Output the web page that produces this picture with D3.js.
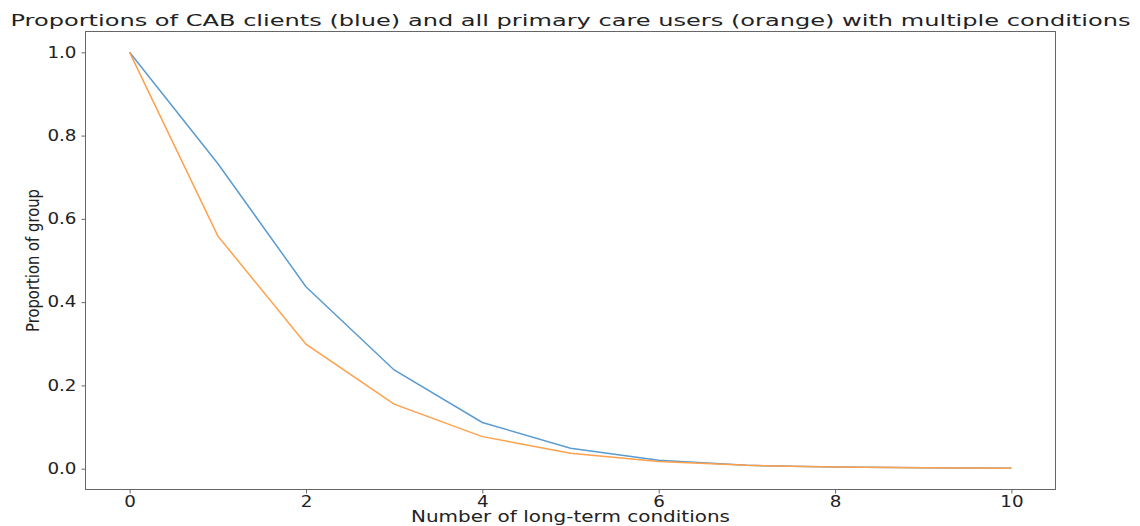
<!DOCTYPE html>
<meta charset="utf-8">
<style>
body { margin: 0; background: #fff; }
text { font-family: "DejaVu Sans", sans-serif; fill: #222; }
.frame { fill: none; stroke: #666; stroke-width: 1px; }
.axis path { display: none; }
.axis line { stroke: #666; }
.line { fill: none; stroke-width: 1.5px; }
</style>
<svg width="1140" height="526"></svg>
<script src="https://cdnjs.cloudflare.com/ajax/libs/d3/7.8.5/d3.min.js"></script>
<script>

var conditions = [0, 1, 2, 3, 4, 5, 6, 7, 8, 9, 10];
var cabClients = [1.0, 0.733, 0.437, 0.237, 0.111, 0.049, 0.020, 0.008, 0.004, 0.002, 0.001];
var primaryCare = [1.0, 0.559, 0.299, 0.155, 0.077, 0.037, 0.017, 0.008, 0.004, 0.002, 0.001];
var xTicks = [0, 2, 4, 6, 8, 10];
var yTicks = [0.0, 0.2, 0.4, 0.6, 0.8, 1.0];

var svg = d3.select("svg"),
    margin = {top: 31.5, right: 84.5, bottom: 36.5, left: 85.5},
    width = +svg.attr("width") - margin.left - margin.right,
    height = +svg.attr("height") - margin.top - margin.bottom;

// stretch text horizontally like the reference picture
var stretch = 1.22;

var x = d3.scaleLinear().domain([-0.5, 10.5]).range([0, width]);
var y = d3.scaleLinear().domain([-0.05, 1.05]).range([height, 0]);

var g = svg.append("g")
    .attr("transform", "translate(" + margin.left + "," + margin.top + ")");

var line = d3.line()
    .x(function(d, i) { return x(conditions[i]); })
    .y(function(d) { return y(d); });

g.append("path")
    .datum(cabClients)
    .attr("class", "line")
    .attr("stroke", "#5b9bd0")
    .attr("d", line);

g.append("path")
    .datum(primaryCare)
    .attr("class", "line")
    .attr("stroke", "#ffa04a")
    .attr("d", line);

g.append("rect")
    .attr("class", "frame")
    .attr("width", width)
    .attr("height", height);

g.append("g")
    .attr("class", "axis")
    .attr("transform", "translate(0," + height + ")")
    .call(d3.axisBottom(x).tickValues(xTicks).tickSize(4).tickPadding(2.5)
      .tickFormat(d3.format("d")));

g.append("g")
    .attr("class", "axis")
    .call(d3.axisLeft(y).tickValues(yTicks).tickSize(4).tickPadding(5)
      .tickFormat(d3.format(".1f")));

svg.selectAll(".axis text")
    .attr("font-size", 15)
    .style("font-family", "DejaVu Sans")
    .attr("fill", "#222")
    .each(function() {
      var w = this.getComputedTextLength();
      d3.select(this).attr("textLength", w * stretch).attr("lengthAdjust", "spacingAndGlyphs");
    });

svg.append("text")
    .attr("x", margin.left + width / 2)
    .attr("y", 26)
    .attr("text-anchor", "middle")
    .attr("font-size", 16)
    .attr("textLength", 1120)
    .attr("lengthAdjust", "spacingAndGlyphs")
    .text("Proportions of CAB clients (blue) and all primary care users (orange) with multiple conditions");

svg.append("text")
    .attr("x", margin.left + width / 2)
    .attr("y", 522)
    .attr("text-anchor", "middle")
    .attr("font-size", 15)
    .attr("textLength", 319)
    .attr("lengthAdjust", "spacingAndGlyphs")
    .text("Number of long-term conditions");

svg.append("text")
    .attr("transform", "translate(39," + (margin.top + height / 2) + ") rotate(-90)")
    .attr("text-anchor", "middle")
    .attr("font-size", 18.5)
    .attr("textLength", 143)
    .attr("lengthAdjust", "spacingAndGlyphs")
    .text("Proportion of group");

</script>
